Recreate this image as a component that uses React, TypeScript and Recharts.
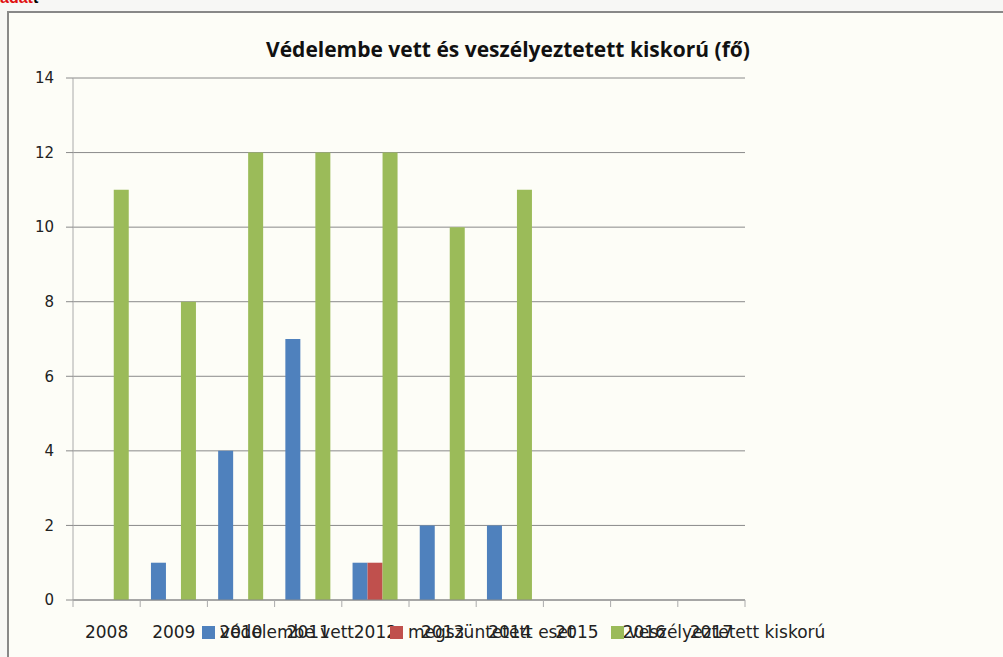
import React from "react";
import { BarChart, Bar, XAxis, YAxis, CartesianGrid, Legend } from "recharts";

const years = ["2008", "2009", "2010", "2011", "2012", "2013", "2014", "2015", "2016", "2017"];
const vedelembeVett = [0, 1, 4, 7, 1, 2, 2, null, null, null];
const megszuntetettEset = [0, 0, 0, 0, 1, 0, 0, null, null, null];
const veszelyeztetett = [11, 8, 12, 12, 12, 10, 11, null, null, null];
const yTicks = [0, 2, 4, 6, 8, 10, 12, 14];

const seriesNames = ["védelembe vett", "megszüntetett eset", "veszélyeztetett kiskorú"];
const seriesColors = ["#4F81BD", "#C0504D", "#9BBB59"];

const data = years.map((y, i) => ({
  year: y,
  a: vedelembeVett[i],
  b: megszuntetettEset[i],
  c: veszelyeztetett[i],
}));

const FONT = "'DejaVu Sans', sans-serif";

// Category tick: label at band centre, tick marks at band boundaries (from the band offset)
const XTick = (props: any) => {
  const { x, y, payload, index, visibleTicksCount } = props;
  const half = payload && payload.offset ? payload.offset : 0;
  const last = index === (visibleTicksCount ?? years.length) - 1;
  return (
    <g>
      <line x1={x - half} y1={y} x2={x - half} y2={y + 7} stroke="#aaa" strokeWidth={1} />
      {last && <line x1={x + half} y1={y} x2={x + half} y2={y + 7} stroke="#aaa" strokeWidth={1} />}
      <text x={x} y={y + 32} textAnchor="middle" dominantBaseline="central" fontFamily={FONT} fontSize={17} fill="#222">
        {payload.value}
      </text>
    </g>
  );
};

const renderLegend = (props: any) => {
  const payload = [...(props.payload || [])].sort(
    (p: any, q: any) => seriesNames.indexOf(p.value) - seriesNames.indexOf(q.value)
  );
  return (
    <div style={{ display: "flex", fontFamily: FONT, fontSize: 17, color: "#222", lineHeight: "20px" }}>
      {payload.map((p: any, i: number) => (
        <div key={i} style={{ display: "flex", alignItems: "center", marginRight: 36 }}>
          <span style={{ display: "inline-block", width: 13, height: 13, background: p.color, marginRight: 5 }} />
          <span>{p.value}</span>
        </div>
      ))}
    </div>
  );
};

export default function App() {
  return (
    <div style={{ position: "fixed", left: 0, top: 0, width: 1003, height: 657, overflow: "hidden", background: "#f7f7f5" }}>
      <div style={{ position: "absolute", left: 0, top: -11, fontFamily: "Arial, sans-serif", fontWeight: "bold", fontSize: 16, color: "#e01010" }}>
        adat<span style={{ color: "#000" }}>t</span>
      </div>
      <div
        style={{
          position: "absolute",
          left: 7,
          top: 11,
          width: 1003,
          height: 657,
          borderLeft: "2px solid #888",
          borderTop: "2px solid #888",
          background: "#fdfdf7",
        }}
      />
      <div
        style={{
          position: "absolute",
          left: 0,
          top: 35,
          width: 1016,
          textAlign: "center",
          fontFamily: "'Open Sans', sans-serif",
          fontWeight: "bold",
          fontSize: 21,
          color: "#111",
        }}
      >
        Védelembe vett és veszélyeztetett kiskorú (fő)
      </div>
      <div style={{ position: "absolute", left: 0, top: 0 }}>
        <BarChart
          width={1003}
          height={657}
          data={data}
          margin={{ top: 78, right: 258, left: 0, bottom: 0 }}
          barCategoryGap="16%"
          barGap={0}
        >
          <CartesianGrid vertical={false} stroke="#8a8a8a" strokeWidth={1} />
          <XAxis
            dataKey="year"
            interval={0}
            tick={<XTick />}
            tickLine={false}
            tickSize={0}
            tickMargin={0}
            height={37}
            axisLine={{ stroke: "#8a8a8a" }}
          />
          <YAxis
            width={73}
            domain={[0, 14]}
            ticks={yTicks}
            interval={0}
            tickSize={7}
            tickMargin={12}
            axisLine={{ stroke: "#aaa" }}
            tickLine={{ stroke: "#8a8a8a" }}
            tick={{ fontFamily: FONT, fontSize: 15, fill: "#222" }}
          />
          <Legend
            content={renderLegend}
            wrapperStyle={{ position: "absolute", left: 202, top: 622, width: 800 }}
          />
          <Bar dataKey="a" name={seriesNames[0]} fill={seriesColors[0]} isAnimationActive={false} />
          <Bar dataKey="b" name={seriesNames[1]} fill={seriesColors[1]} isAnimationActive={false} />
          <Bar dataKey="c" name={seriesNames[2]} fill={seriesColors[2]} isAnimationActive={false} />
        </BarChart>
      </div>
    </div>
  );
}
